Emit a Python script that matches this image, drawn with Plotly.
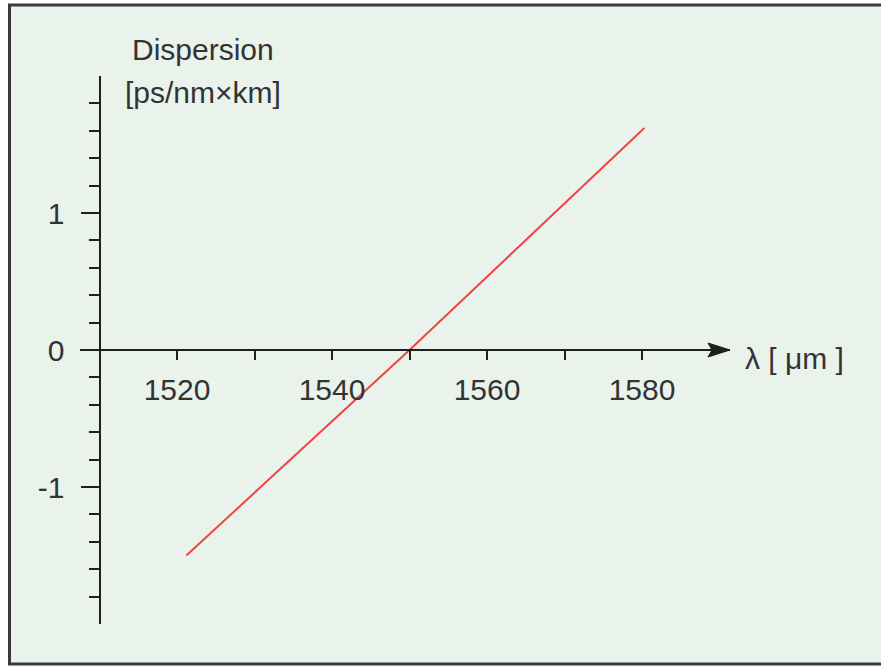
import plotly.graph_objects as go

# ---- data ----
wavelength_nm = [1521.2, 1550.0, 1580.3]
dispersion = [-1.50, 0.0, 1.62]

x_tick_vals = [1520, 1530, 1540, 1550, 1560, 1570, 1580]
x_tick_text = ["1520", "", "1540", "", "1560", "", "1580"]
y_tick_vals = [-1, 0, 1]
y_tick_text = ["-1", "0", "1"]
y_minor_vals = [-1.8, -1.6, -1.4, -1.2, -0.8, -0.6, -0.4, -0.2,
                0.2, 0.4, 0.6, 0.8, 1.2, 1.4, 1.6, 1.8]

W, H = 881, 666
FONT = "Liberation Sans, Arial, sans-serif"
TXT = "#333333"
AX = "#1e1e1e"
BG = "#e9f3eb"
FS = 30

x_range = [1507.48, 1591.35]
y_range = [-2, 2]

fig = go.Figure()
fig.add_trace(go.Scatter(
    x=wavelength_nm, y=dispersion, mode="lines",
    line=dict(color="#ef4444", width=2), hoverinfo="skip", showlegend=False,
))

fig.update_layout(
    width=W, height=H,
    margin=dict(l=0, r=0, t=0, b=0),
    paper_bgcolor="white",
    plot_bgcolor="rgba(0,0,0,0)",
    font=dict(family=FONT, color=TXT, size=FS),
    xaxis=dict(
        domain=[80 / W, 730 / W], range=x_range,
        anchor="free", position=(H - 350) / H,
        showline=True, linecolor=AX, linewidth=2,
        showgrid=False, zeroline=False,
        tickmode="array", tickvals=x_tick_vals, ticktext=x_tick_text,
        ticks="outside", ticklen=9, tickwidth=2, tickcolor=AX,
        tickfont=dict(size=FS, color=TXT, family=FONT),
        ticklabelstandoff=4,
    ),
    yaxis=dict(
        domain=[(H - 624) / H, (H - 76) / H], range=y_range,
        anchor="free", position=99.5 / W,
        showline=True, linecolor=AX, linewidth=2,
        showgrid=False, zeroline=False,
        tickmode="array", tickvals=y_tick_vals, ticktext=y_tick_text,
        ticks="outside", ticklen=18, tickwidth=2, tickcolor=AX,
        tickfont=dict(size=FS, color=TXT, family=FONT),
        ticklabelstandoff=10,
        minor=dict(tickmode="array", tickvals=y_minor_vals, ticks="outside",
                   ticklen=10, tickwidth=2, tickcolor=AX, showgrid=False),
    ),
    shapes=[
        dict(type="rect", xref="paper", yref="paper",
             x0=9.5 / W, x1=1.02, y0=1 - 664 / H, y1=1 - 5 / H,
             line=dict(color="#3a3a3a", width=3), fillcolor=BG, layer="below"),
        dict(type="path", xref="x", yref="y", xsizemode="pixel", ysizemode="pixel",
             xanchor=x_range[1], yanchor=0,
             path="M-22,-7 L0,0 L-22,7 L-18,0 Z",
             fillcolor=AX, line=dict(color=AX, width=1), layer="above"),
    ],
    annotations=[
        dict(text="Dispersion", xref="paper", yref="paper",
             x=203 / W, y=1 - 50 / H, xanchor="center", yanchor="middle",
             showarrow=False, font=dict(size=FS, color=TXT, family=FONT)),
        dict(text="[ps/nm×km]", xref="paper", yref="paper",
             x=203 / W, y=1 - 92 / H, xanchor="center", yanchor="middle",
             showarrow=False, font=dict(size=FS, color=TXT, family=FONT)),
        dict(text="λ [ μm ]", xref="paper", yref="paper",
             x=743 / W, y=1 - 358 / H, xanchor="left", yanchor="middle",
             showarrow=False, font=dict(size=FS, color=TXT, family=FONT)),
    ],
)

fig.write_html("out.html")
